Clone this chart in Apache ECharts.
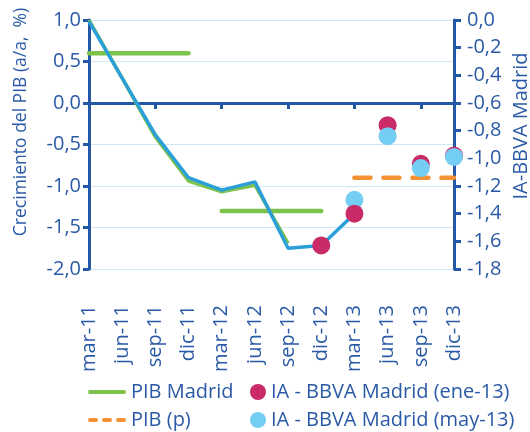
<!DOCTYPE html>
<html>
<head>
<meta charset="utf-8">
<script src="https://cdn.jsdelivr.net/npm/echarts@6/dist/echarts.min.js"></script>
<style>
  html, body { margin: 0; padding: 0; background: #fff; }
  #chart { width: 530px; height: 432px; }
</style>
</head>
<body>
<div id="chart"></div>
<script>
// quarters on the x axis
const categories = ['mar-11', 'jun-11', 'sep-11', 'dic-11', 'mar-12', 'jun-12',
  'sep-12', 'dic-12', 'mar-13', 'jun-13', 'sep-13', 'dic-13'];

// PIB Madrid, quarterly y/y (left axis)
const pibTrim = [1.0, 0.30, -0.41, -0.94, -1.07, -0.99, -1.69, null, null, null, null, null];
// PIB Madrid, annual averages (left axis)
const pib2011 = [0.6, 0.6, 0.6, 0.6, null, null, null, null, null, null, null, null];
const pib2012 = [null, null, null, null, -1.3, -1.3, -1.3, -1.3, null, null, null, null];
// PIB (p), forecast (left axis)
const pibPrev = [null, null, null, null, null, null, null, null, -0.9, -0.9, -0.9, -0.9];
// IA-BBVA Madrid quarterly line (right axis)
const iaTrim = [-0.01, -0.42, -0.83, -1.14, -1.23, -1.17, -1.65, -1.63, -1.40, null, null, null];
// IA-BBVA Madrid forecasts (right axis)
const iaEne = [null, null, null, null, null, null, null, -1.63, -1.40, -0.76, -1.04, -0.98];
const iaMay = [null, null, null, null, null, null, null, null, -1.30, -0.84, -1.07, -0.99];

const leftTicks = { min: -2, max: 1, interval: 0.5 };
const rightTicks = { min: -1.8, max: 0, interval: 0.2 };

const AXIS = '#2457a6';
const TEXT = '#2a5aa6';
const FONT = '"Open Sans", "Noto Sans", sans-serif';
const GREEN = '#7dc24d';
const BLUE = '#2b9fd8';
const MAGENTA = '#c92a68';
const LIGHT = '#74cdf2';
const ORANGE = '#f39134';

const fmt = (v) => Number(v).toFixed(1).replace('.', ',');

// split the ene-13 dots: the first two sit on top of the may-13 dots
const iaEneEarly = iaEne.map((v, i) => (i <= 8 ? v : null));
const iaEneLate = iaEne.map((v, i) => (i > 8 ? v : null));

const legendText = { fontFamily: FONT, fontSize: 20, color: TEXT, lineHeight: 20 };

function legendBox(left, top, name, icon, w, h) {
  return {
    left, top, itemWidth: w, itemHeight: h, selectedMode: false,
    textStyle: legendText,
    data: [{ name, icon }]
  };
}

const chart = echarts.init(document.getElementById('chart'));

const option = {
  backgroundColor: '#fff',
  animation: false,
  textStyle: { fontFamily: FONT, color: TEXT },
  grid: { left: 89, right: 76, top: 20, bottom: 163 },
  legend: [
    legendBox(83, 377, 'PIB Madrid', 'path://M2,0h34a2,2 0 0 1 0,4h-34a2,2 0 0 1 0,-4z', 38, 4),
    legendBox(83, 405, 'PIB (p)',
      'path://M2,0h6a2,2 0 0 1 0,4h-6a2,2 0 0 1 0,-4z M16,0h6a2,2 0 0 1 0,4h-6a2,2 0 0 1 0,-4z M30,0h6a2,2 0 0 1 0,4h-6a2,2 0 0 1 0,-4z',
      38, 4),
    legendBox(245, 377, 'IA - BBVA Madrid (ene-13)', 'circle', 16, 16),
    legendBox(245, 405, 'IA - BBVA Madrid (may-13)', 'circle', 16, 16)
  ],
  xAxis: [
    {
      type: 'category', data: categories, boundaryGap: false,
      axisLine: { show: false, onZero: false },
      axisTick: { show: false },
      axisLabel: { rotate: 90, margin: 36, fontSize: 20, color: TEXT, fontFamily: FONT, interval: 0, padding: [6, 0, 0, 0] }
    },
    {
      type: 'category', data: categories, boundaryGap: false, position: 'bottom',
      axisLine: { show: true, onZero: true, onZeroAxisIndex: 0, lineStyle: { color: AXIS, width: 3 } },
      axisTick: { show: true, length: 6, lineStyle: { color: AXIS, width: 3 } },
      axisLabel: { show: false }
    }
  ],
  yAxis: [
    {
      type: 'value', position: 'left', ...leftTicks,
      axisLine: { show: true, lineStyle: { color: AXIS, width: 3 } },
      axisTick: { show: true, length: 6, lineStyle: { color: AXIS, width: 3 } },
      axisLabel: { margin: 8, fontSize: 20, color: TEXT, fontFamily: FONT, formatter: fmt },
      splitLine: { show: true, lineStyle: { color: '#cde7f5', width: 1 } }
    },
    {
      type: 'value', position: 'right', ...rightTicks,
      axisLine: { show: true, lineStyle: { color: AXIS, width: 3 } },
      axisTick: { show: true, length: 7, lineStyle: { color: AXIS, width: 3 } },
      axisLabel: { margin: 13, fontSize: 20, color: TEXT, fontFamily: FONT, formatter: fmt },
      splitLine: { show: false }
    }
  ],
  graphic: [
    {
      type: 'text', x: 21, y: 122, rotation: Math.PI / 2,
      style: { text: 'Crecimiento del PIB (a/a,  %)', fill: TEXT, font: '17.5px ' + FONT, align: 'center', verticalAlign: 'middle' }
    },
    {
      type: 'text', x: 521, y: 126, rotation: Math.PI / 2,
      style: { text: 'IA-BBVA Madrid', fill: TEXT, font: '20px ' + FONT, align: 'center', verticalAlign: 'middle' }
    }
  ],
  series: [
    {
      name: 'PIB Madrid', type: 'line', yAxisIndex: 0, data: pib2011,
      symbol: 'none', z: 3,
      lineStyle: { color: GREEN, width: 4.5, cap: 'round' }, itemStyle: { color: GREEN }
    },
    {
      name: 'PIB Madrid', type: 'line', yAxisIndex: 0, data: pib2012,
      symbol: 'none', z: 3,
      lineStyle: { color: GREEN, width: 4.5, cap: 'round' }, itemStyle: { color: GREEN }
    },
    {
      name: 'PIB Madrid', type: 'line', yAxisIndex: 0, data: pibTrim,
      symbol: 'none', z: 4,
      lineStyle: { color: GREEN, width: 3.5 }, itemStyle: { color: GREEN }
    },
    {
      name: 'PIB (p)', type: 'line', yAxisIndex: 0, data: pibPrev,
      symbol: 'none', z: 3,
      lineStyle: { color: ORANGE, width: 4.5, type: [16, 13], cap: 'round' }, itemStyle: { color: ORANGE }
    },
    {
      name: 'IA trimestral', type: 'line', yAxisIndex: 1, data: iaTrim,
      symbol: 'none', z: 5,
      lineStyle: { color: BLUE, width: 3.5 }, itemStyle: { color: BLUE }
    },
    {
      name: 'IA - BBVA Madrid (ene-13)', type: 'scatter', yAxisIndex: 1, data: iaEneLate,
      symbol: 'circle', symbolSize: 18, z: 6,
      itemStyle: { color: MAGENTA, opacity: 1 }
    },
    {
      name: 'IA - BBVA Madrid (may-13)', type: 'scatter', yAxisIndex: 1, data: iaMay,
      symbol: 'circle', symbolSize: 18, z: 7,
      itemStyle: { color: LIGHT, opacity: 1 }
    },
    {
      name: 'IA - BBVA Madrid (ene-13)', type: 'scatter', yAxisIndex: 1, data: iaEneEarly,
      symbol: 'circle', symbolSize: 18, z: 8,
      itemStyle: { color: MAGENTA, opacity: 1 }
    }
  ]
};

chart.setOption(option);
</script>
</body>
</html>
